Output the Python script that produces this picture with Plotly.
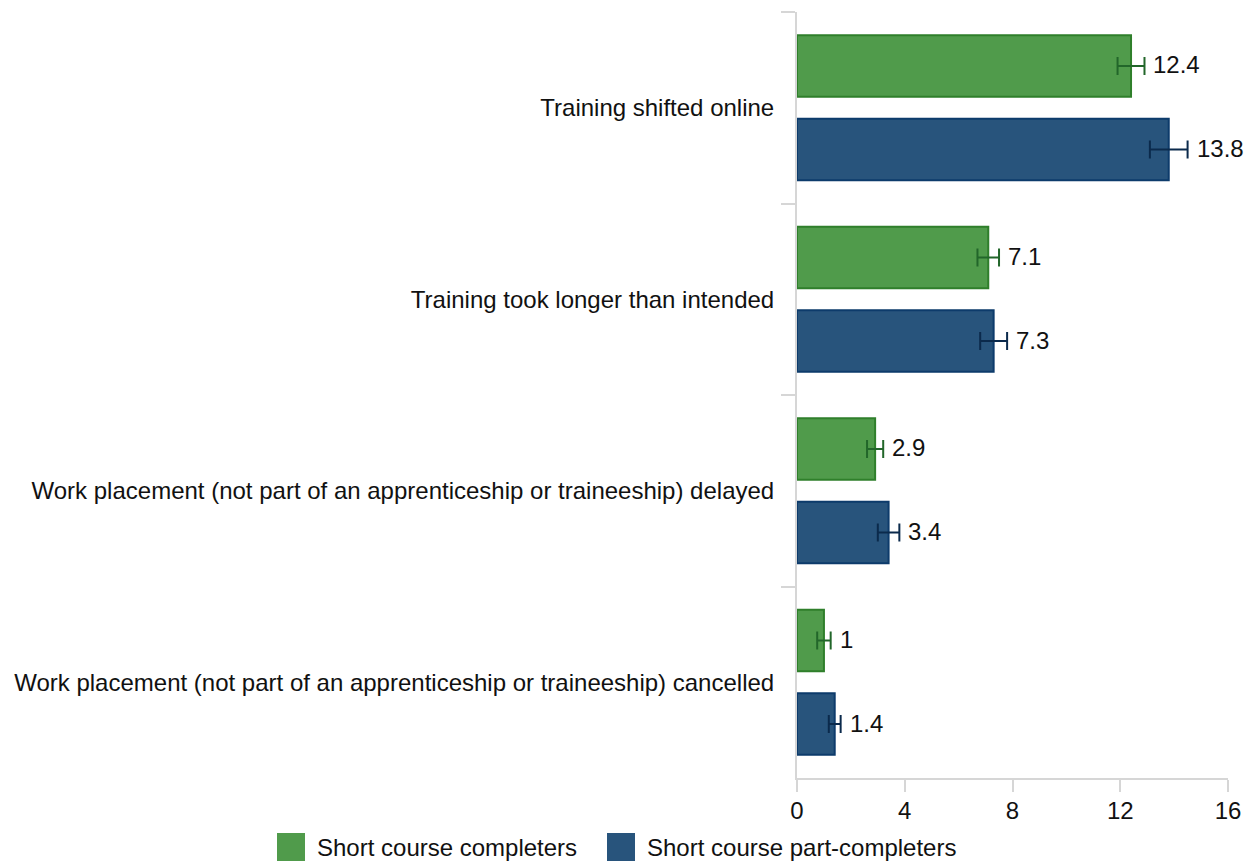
import plotly.graph_objects as go

# Training disruptions reported, by learner group (%)
categories = [
    "Training shifted online",
    "Training took longer than intended",
    "Work placement (not part of an apprenticeship or traineeship) delayed",
    "Work placement (not part of an apprenticeship or traineeship) cancelled",
]
completers = [12.4, 7.1, 2.9, 1.0]
completers_err = [0.5, 0.4, 0.3, 0.25]
part_completers = [13.8, 7.3, 3.4, 1.4]
part_completers_err = [0.7, 0.5, 0.4, 0.22]
x_ticks = [0, 4, 8, 12, 16]

series = [
    dict(name="Short course completers", values=completers, err=completers_err,
         fill="#509b4b", line="#2f7f2b", errc="#22662a"),
    dict(name="Short course part-completers", values=part_completers, err=part_completers_err,
         fill="#28547c", line="#0d3b6b", errc="#0b2a4c"),
]

W, H = 1247, 863
L, R, T, B = 797, 19, 12, 85
pw, ph = W - L - R, H - T - B

FONT = "Liberation Sans, Arial, sans-serif"
FS = 24

fig = go.Figure()
annotations = []
for s in series:
    fig.add_trace(go.Bar(
        y=categories, x=s["values"], name=s["name"], orientation="h",
        marker=dict(color=s["fill"], line=dict(color=s["line"], width=2)),
        error_x=dict(type="data", array=s["err"], color=s["errc"], thickness=2, width=9),
        showlegend=False,
    ))

# value labels placed just past each error bar
for si, s in enumerate(series):
    for ci, (v, e) in enumerate(zip(s["values"], s["err"])):
        off = -0.225 if si == 0 else 0.215
        annotations.append(dict(
            x=v + e, y=ci + off, xref="x", yref="y", text=f"{v:g}",
            showarrow=False, xanchor="left", yanchor="middle", xshift=7,
            font=dict(size=FS, color="#111111", family=FONT),
        ))

# legend drawn below the plot
def px_x(p):
    return (p - L) / pw

def px_y(p):
    return (H - B - p) / ph

shapes = []
legend_items = [(277, 317), (607, 647)]
for s, (sq, tx) in zip(series, legend_items):
    shapes.append(dict(type="rect", xref="paper", yref="paper",
                       x0=px_x(sq), x1=px_x(sq + 28), y0=px_y(833), y1=px_y(861),
                       fillcolor=s["fill"], line=dict(width=0)))
    annotations.append(dict(x=px_x(tx - 2), y=px_y(847), xref="paper", yref="paper",
                            text=s["name"], showarrow=False, xanchor="left", yanchor="middle",
                            font=dict(size=FS, color="#111111", family=FONT)))

fig.update_layout(
    width=W, height=H,
    margin=dict(l=L, r=R, t=T, b=B, autoexpand=False),
    barmode="group", bargap=0.13, bargroupgap=0.262,
    plot_bgcolor="white", paper_bgcolor="white",
    font=dict(family=FONT, size=FS, color="#111111"),
    annotations=annotations, shapes=shapes,
    xaxis=dict(range=[0, 16], tickvals=x_ticks, showgrid=False, zeroline=False,
               showline=True, linecolor="#d6d6d6", linewidth=2, automargin=False,
               ticks="outside", ticklen=12, tickwidth=2, tickcolor="#d6d6d6",
               ticklabelstandoff=-2,
               tickfont=dict(size=FS, color="#111111")),
    yaxis=dict(autorange="reversed", showgrid=False, zeroline=False,
               showline=True, linecolor="#d6d6d6", linewidth=2, automargin=False,
               ticks="outside", tickson="boundaries", ticklen=14, tickwidth=2,
               tickcolor="#d6d6d6", ticklabelstandoff=16,
               tickfont=dict(size=FS, color="#111111")),
)

fig.write_html("out.html")
